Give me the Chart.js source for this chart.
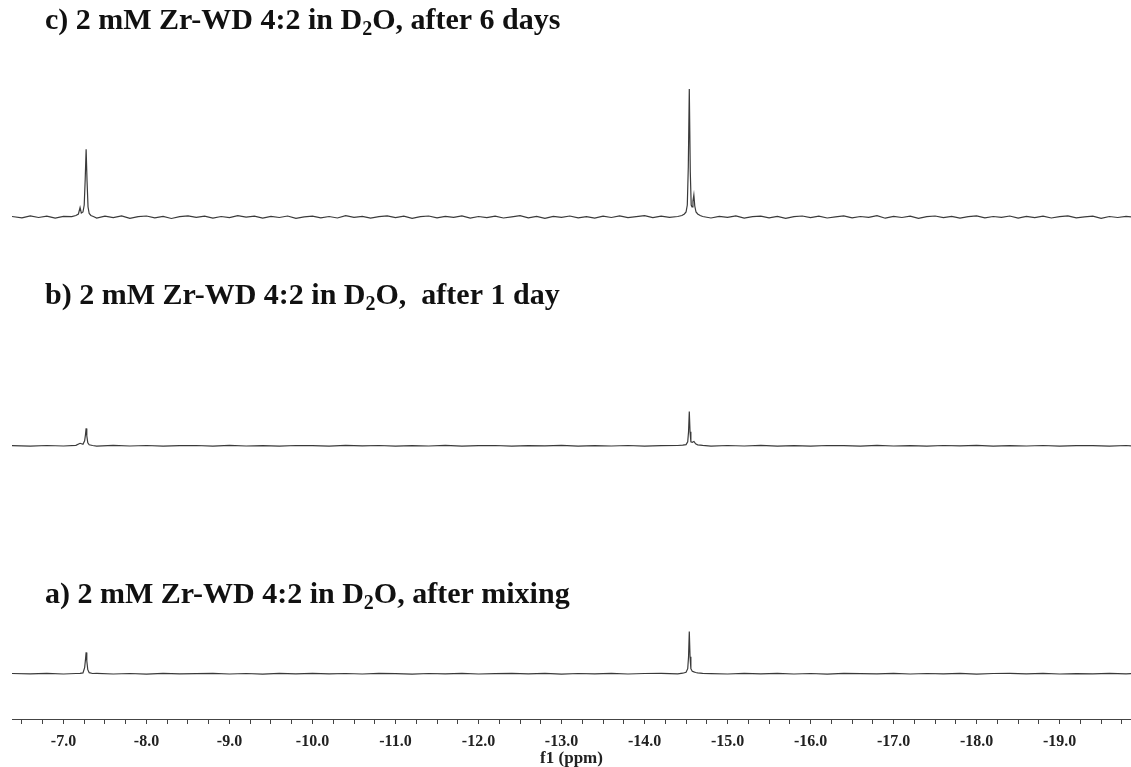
<!DOCTYPE html>
<html>
<head>
<meta charset="utf-8">
<script src="https://cdn.jsdelivr.net/npm/chart.js@4.4.1/dist/chart.umd.min.js"></script>
<style>
  html, body { margin: 0; padding: 0; background: #ffffff; }
  #wrap { position: relative; width: 1131px; height: 767px; }
</style>
</head>
<body>
<div id="wrap"><canvas id="c"></canvas></div>
<script>
// ---------- DATA ----------
// Trace titles (main text, subscript, rest)
const titleC = ['c) 2 mM Zr-WD 4:2 in D', '2', 'O, after 6 days'];
const titleB = ['b) 2 mM Zr-WD 4:2 in D', '2', 'O,  after 1 day'];
const titleA = ['a) 2 mM Zr-WD 4:2 in D', '2', 'O, after mixing'];

// x-axis tick positions (ppm) and axis title
const tickValues = [-6.5,-6.75,-7,-7.25,-7.5,-7.75,-8,-8.25,-8.5,-8.75,-9,-9.25,-9.5,-9.75,-10,-10.25,-10.5,-10.75,-11,-11.25,-11.5,-11.75,-12,-12.25,-12.5,-12.75,-13,-13.25,-13.5,-13.75,-14,-14.25,-14.5,-14.75,-15,-15.25,-15.5,-15.75,-16,-16.25,-16.5,-16.75,-17,-17.25,-17.5,-17.75,-18,-18.25,-18.5,-18.75,-19,-19.25,-19.5,-19.75];
const majorTicks = [-7,-8,-9,-10,-11,-12,-13,-14,-15,-16,-17,-18,-19];
const axisTitle = 'f1 (ppm)';

// Trace c (after 6 days)
const ppmC = [-6.38,-6.5,-6.6,-6.7,-6.8,-6.9,-7.0,-7.1,
  -7.15,-7.18,-7.20,-7.215,-7.235,-7.25,-7.262,-7.273,-7.284,-7.296,-7.31,-7.33,-7.36,
  -7.4,-7.5,-7.6,-7.7,-7.8,-7.9,-8.0,-8.1,-8.2,-8.3,-8.4,-8.5,-8.6,-8.7,-8.8,-8.9,-9.0,-9.1,-9.2,-9.3,-9.4,-9.5,-9.6,-9.7,-9.8,-9.9,
  -10.0,-10.1,-10.2,-10.3,-10.4,-10.5,-10.6,-10.7,-10.8,-10.9,-11.0,-11.1,-11.2,-11.3,-11.4,-11.5,-11.6,-11.7,-11.8,-11.9,
  -12.0,-12.1,-12.2,-12.3,-12.4,-12.5,-12.6,-12.7,-12.8,-12.9,-13.0,-13.1,-13.2,-13.3,-13.4,-13.5,-13.6,-13.7,-13.8,-13.9,
  -14.0,-14.1,-14.2,-14.3,-14.4,
  -14.45,-14.48,-14.50,-14.515,-14.527,-14.539,-14.551,-14.562,-14.572,-14.583,-14.594,-14.605,-14.62,-14.64,-14.67,
  -14.7,-14.8,-14.9,-15.0,-15.1,-15.2,-15.3,-15.4,-15.5,-15.6,-15.7,-15.8,-15.9,-16.0,-16.1,-16.2,-16.3,-16.4,-16.5,-16.6,-16.7,-16.8,-16.9,
  -17.0,-17.1,-17.2,-17.3,-17.4,-17.5,-17.6,-17.7,-17.8,-17.9,-18.0,-18.1,-18.2,-18.3,-18.4,-18.5,-18.6,-18.7,-18.8,-18.9,
  -19.0,-19.1,-19.2,-19.3,-19.4,-19.5,-19.6,-19.7,-19.8,-19.86];
const intC = [0.5,-0.8,1.2,-0.5,0.9,-1.1,0.6,0.4,
  1.5,3,9.5,4,5,12,38,67.7,36,10,3.5,1.5,0.5,
  -1.0,0.8,-0.6,1.1,-1.3,0.4,1.0,-0.9,0.7,-1.5,0.3,1.2,-0.4,0.9,-1.1,0.5,-0.7,1.3,-0.2,0.8,-1.2,0.6,-0.5,1.0,-1.4,0.2,
  0.9,-0.8,0.5,-1.0,1.4,-0.3,0.7,-1.2,0.4,1.1,-0.6,0.8,-1.3,0.3,1.0,-0.9,0.6,-0.4,1.2,-1.1,
  0.5,-0.7,0.9,-1.0,0.2,1.3,-0.8,0.6,-1.4,0.7,-0.3,1.0,-0.9,0.4,-1.2,0.8,-0.5,1.1,-0.7,0.3,
  1.4,-0.6,0.9,-0.4,0.5,
  1.5,3,5,12,50,128,45,12,10,16,22,11,5,3,1.5,
  0.5,-1.0,0.7,-0.4,1.2,-1.1,0.3,0.9,-0.8,0.6,-1.3,0.4,1.0,-0.6,0.8,-1.0,0.2,1.1,-0.9,0.5,-0.3,1.3,-1.2,
  0.6,-0.5,0.9,-1.4,0.4,1.0,-0.7,0.7,-1.1,0.3,1.2,-0.8,0.5,-0.4,1.0,-1.2,0.6,-0.6,0.9,-1.0,
  0.4,1.1,-0.9,0.2,0.8,-1.3,0.5,-0.5,0.7,0.2];

// Traces b and a share the same ppm sampling
const ppmAB = [-6.38,-6.6,-6.8,-7.0,-7.15,-7.2,-7.235,-7.255,-7.265,-7.273,-7.281,-7.293,-7.31,-7.35,
  -7.4,-7.6,-7.8,-8.0,-8.2,-8.4,-8.6,-8.8,-9.0,-9.2,-9.4,-9.6,-9.8,-10.0,-10.2,-10.4,-10.6,-10.8,-11.0,-11.2,-11.4,-11.6,-11.8,
  -12.0,-12.2,-12.4,-12.6,-12.8,-13.0,-13.2,-13.4,-13.6,-13.8,-14.0,-14.2,-14.4,
  -14.46,-14.5,-14.52,-14.53,-14.539,-14.548,-14.558,-14.575,-14.595,-14.615,-14.64,-14.7,-14.8,
  -15.0,-15.2,-15.4,-15.6,-15.8,-16.0,-16.2,-16.4,-16.6,-16.8,-17.0,-17.2,-17.4,-17.6,-17.8,-18.0,-18.2,-18.4,-18.6,-18.8,-19.0,-19.2,-19.4,-19.6,-19.8,-19.86];
// Trace b (after 1 day)
const intB = [0.2,-0.3,0.3,-0.2,0.4,2.5,1.5,5,11,17.4,10,3,1,0.3,
  -0.3,0.4,-0.2,0.3,-0.4,0.2,0.3,-0.3,0.4,-0.2,0.1,-0.4,0.3,0.2,-0.3,0.4,-0.1,0.3,-0.4,0.2,-0.2,0.4,-0.3,
  0.1,0.3,-0.4,0.2,-0.1,0.4,-0.3,0.2,-0.2,0.3,-0.4,0.2,0.3,
  0.6,1.2,4,14,34.3,14,4,3.5,4.3,2,1,0.4,-0.3,
  0.3,-0.2,0.4,-0.3,0.2,-0.4,0.3,0.1,-0.3,0.4,-0.2,0.2,-0.4,0.3,-0.1,0.4,-0.3,0.2,-0.2,0.3,-0.4,0.2,0.1,-0.3,0.3,0];
// Trace a (after mixing)
const intA = [0.2,-0.2,0.3,-0.3,0.2,0.4,0.8,6,14,21.3,13,4,1,0.2,
  0.3,-0.3,0.2,-0.4,0.4,-0.2,0.1,0.3,-0.3,0.2,-0.4,0.3,-0.1,0.4,-0.2,0.2,-0.3,0.3,0.1,-0.4,0.2,-0.2,0.4,
  -0.3,0.1,0.3,-0.2,0.4,-0.4,0.2,-0.1,0.3,-0.3,0.2,0.4,-0.2,
  0.5,1.5,5,17,42.3,17,5,2.5,1.8,1.2,0.8,0.4,0.1,
  -0.3,0.3,-0.2,0.4,-0.3,0.2,-0.4,0.3,0.1,-0.2,0.4,-0.3,0.2,-0.1,0.3,-0.4,0.2,0.3,-0.2,0.4,-0.3,0.1,-0.2,0.3,-0.1,0];

// ---------- LAYOUT (stack offsets, styles) ----------
const stackOffset = { c: 502, b: 273.2, a: 45.3 };
const titleBaselines = [29, 304, 603];
const titleX = 45;
const titleFont = 'bold 30px "Liberation Serif", "Times New Roman", serif';
const subFont = 'bold 20px "Liberation Serif", "Times New Roman", serif';
const lineColor = '#3a3a3a';

function pts(ppm, vals, off) {
  return ppm.map((x, i) => ({ x: x, y: vals[i] + off }));
}

const titlePlugin = {
  id: 'stackTitles',
  afterDraw(chart) {
    const ctx = chart.ctx;
    const titles = [titleC, titleB, titleA];
    ctx.save();
    ctx.fillStyle = '#111';
    ctx.textBaseline = 'alphabetic';
    titles.forEach((t, k) => {
      let x = titleX;
      const y = titleBaselines[k];
      ctx.font = titleFont;
      ctx.fillText(t[0], x, y); x += ctx.measureText(t[0]).width;
      ctx.font = subFont;
      ctx.fillText(t[1], x, y + 6); x += ctx.measureText(t[1]).width;
      ctx.font = titleFont;
      ctx.fillText(t[2], x, y);
    });
    ctx.restore();
  }
};

const ds = (data) => ({
  data: data, borderColor: lineColor, borderWidth: 1.2, pointRadius: 0,
  tension: 0, fill: false
});

new Chart(document.getElementById('c'), {
  type: 'line',
  data: {
    datasets: [
      ds(pts(ppmC, intC, stackOffset.c)),
      ds(pts(ppmAB, intB, stackOffset.b)),
      ds(pts(ppmAB, intA, stackOffset.a))
    ]
  },
  plugins: [titlePlugin],
  options: {
    responsive: true,
    maintainAspectRatio: false,
    animation: false,
    layout: { padding: { left: 12, right: 0, top: 0, bottom: 0 } },
    plugins: { legend: { display: false }, tooltip: { enabled: false } },
    scales: {
      x: {
        type: 'linear',
        reverse: true,
        min: -19.86,
        max: -6.38,
        afterBuildTicks: (scale) => { scale.ticks = tickValues.map(v => ({ value: v })); },
        afterFit: (scale) => { scale.height = 48; },
        grid: { display: true, drawOnChartArea: false, drawTicks: true, tickLength: 5, color: '#444', tickColor: '#444' },
        border: { display: true, color: '#444', width: 1 },
        ticks: {
          autoSkip: false, maxRotation: 0, padding: 8, color: '#222',
          font: { family: '"Liberation Serif", "Times New Roman", serif', size: 16, weight: 'bold' },
          callback: (v) => majorTicks.includes(v) ? v.toFixed(1) : ''
        },
        title: {
          display: true, text: axisTitle, color: '#222',
          font: { family: '"Liberation Serif", "Times New Roman", serif', size: 17, weight: 'bold', lineHeight: 1.0 },
          padding: { top: 0, bottom: 0 }
        }
      },
      y: { display: false, min: 0, max: 719 }
    }
  }
});
</script>
</body>
</html>
